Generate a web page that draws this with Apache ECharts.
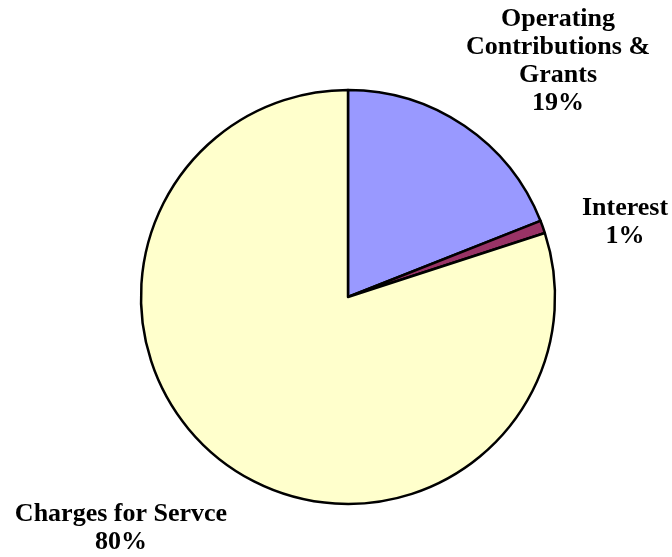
<!DOCTYPE html>
<html>
<head>
<meta charset="utf-8">
<script src="https://cdn.jsdelivr.net/npm/echarts@6/dist/echarts.min.js"></script>
<style>
  html, body { margin: 0; padding: 0; background: #fff; }
  #chart { width: 672px; height: 557px; }
</style>
</head>
<body>
<div id="chart"></div>
<script>
const categories = ['Operating\nContributions &\nGrants', 'Interest', 'Charges for Servce']
const values = [19, 1, 80]
const sliceColors = ['#9999FF', '#993366', '#FFFFCC']

// label block centres, by slice index
const labelSpots = [
  { x: 558, y: 61 },
  { x: 625, y: 222 },
  { x: 121, y: 528 }
]

const chart = echarts.init(document.getElementById('chart'))

const option = {
  backgroundColor: '#fff',
  animation: false,
  series: [
    {
      type: 'pie',
      center: [348, 297],
      radius: 207,
      startAngle: 90,
      clockwise: true,
      percentPrecision: 0,
      data: categories.map((name, i) => ({
        name,
        value: values[i],
        itemStyle: { color: sliceColors[i] }
      })),
      itemStyle: {
        borderColor: '#000',
        borderWidth: 2.5
      },
      label: {
        show: true,
        position: 'outside',
        formatter: '{b}\n{d}%',
        fontFamily: 'Liberation Serif',
        fontWeight: 'bold',
        fontSize: 26,
        lineHeight: 28,
        color: '#000',
        align: 'center',
        overflow: 'none',
        width: 300
      },
      labelLine: { show: false },
      labelLayout: (params) => ({
        x: labelSpots[params.dataIndex].x,
        y: labelSpots[params.dataIndex].y,
        align: 'center',
        verticalAlign: 'middle'
      }),
      emphasis: { disabled: true }
    }
  ]
}

chart.setOption(option)
</script>
</body>
</html>
